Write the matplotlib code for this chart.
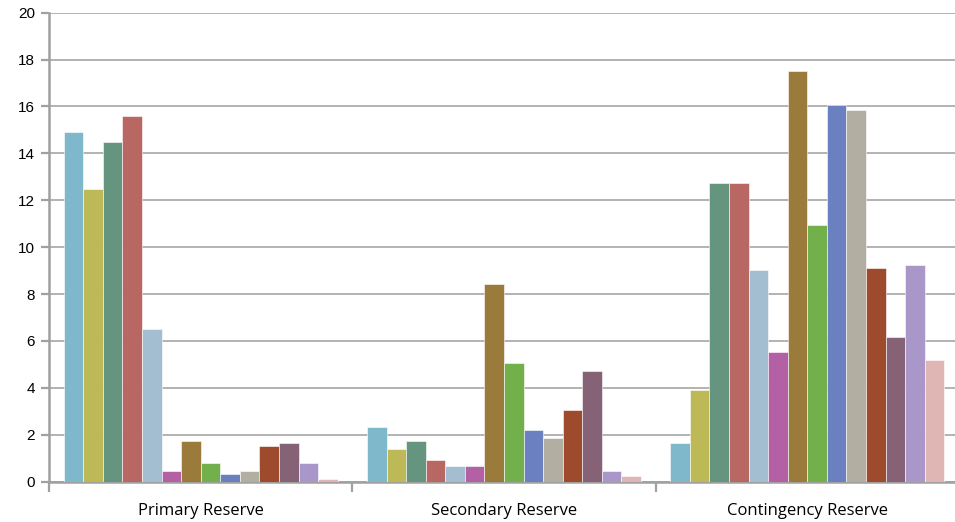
import matplotlib
matplotlib.use("Agg")
import matplotlib.pyplot as plt
import numpy as np

categories = ["Primary Reserve", "Secondary Reserve", "Contingency Reserve"]
colors = ["#7FB8CB", "#BCB956", "#66957F", "#B86763", "#A3BDD1", "#B460A5", "#9A7B3B",
          "#72B04C", "#6A80C0", "#B2AEA2", "#9D4A2D", "#856275", "#A897C8", "#E0B6B4"]
primary = [14.9, 12.5, 14.5, 15.6, 6.5, 0.45, 1.75, 0.8, 0.34, 0.44, 1.52, 1.63, 0.8, 0.1]
secondary = [2.35, 1.39, 1.75, 0.91, 0.67, 0.67, 8.43, 5.07, 2.22, 1.86, 3.06, 4.73, 0.44, 0.23]
contingency = [1.63, 3.9, 12.72, 12.72, 9.02, 5.55, 17.5, 10.93, 16.06, 15.83, 9.13, 6.16, 9.25, 5.19]

data = np.array([primary, secondary, contingency])
n_series = data.shape[1]
gap = 1.5
width = 1.0 / (n_series + gap)

fig = plt.figure(figsize=(9.55, 5.22), dpi=100)
ax = fig.add_axes([49 / 955, 0.0772, 910 / 955, 0.8985])

x = np.arange(len(categories))
for i in range(n_series):
    offs = (i - (n_series - 1) / 2) * width
    ax.bar(x + offs, data[:, i], width=width, color=colors[i], edgecolor="white",
           linewidth=0.4, zorder=3)

ax.set_xlim(-0.5, len(categories) - 0.5)
ax.set_ylim(0, 20)
ax.set_yticks(np.arange(0, 21, 2))
ax.yaxis.grid(True, color="#A6A6A6", linewidth=1.2, zorder=0)
ax.set_axisbelow(True)

ax.set_xticks(np.arange(-0.5, len(categories) + 0.5, 1))
ax.set_xticklabels([])
ax.set_xticks(x, minor=True)
ax.set_xticklabels(categories, minor=True, fontsize=12, family="Open Sans")
ax.tick_params(axis="x", which="minor", length=0, pad=15)
ax.tick_params(axis="x", which="major", length=7, width=1.6, color="#A0A0A0")
ax.tick_params(axis="y", length=6, width=1.6, color="#A0A0A0", labelsize=11, pad=4)
for lbl in ax.get_yticklabels():
    lbl.set_family("Liberation Sans")

for s in ["top", "right"]:
    ax.spines[s].set_visible(False)
for s in ["left", "bottom"]:
    ax.spines[s].set_color("#A0A0A0")
    ax.spines[s].set_linewidth(1.8)

fig.savefig("out.png", dpi=100)
